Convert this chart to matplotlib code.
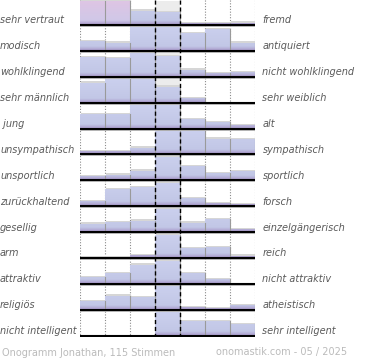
import numpy as np
import matplotlib
matplotlib.use("Agg")
import matplotlib.pyplot as plt
from matplotlib.patches import Rectangle
from matplotlib import transforms
from matplotlib.colors import to_rgb

# ---------------- data ----------------
left_labels = ["sehr vertraut", "modisch", "wohlklingend", "sehr männlich", " jung",
               "unsympathisch", "unsportlich", "zurückhaltend", "gesellig", "arm",
               "attraktiv", "religiös", "nicht intelligent"]
right_labels = ["fremd", "antiquiert", "nicht wohlklingend", "sehr weiblich", "alt",
                "sympathisch", "sportlich", "forsch", "einzelgängerisch", "reich",
                "nicht attraktiv", "atheistisch", "sehr intelligent"]
# relative bar heights per row (100 = full row height, larger values are clipped)
row_values = [
    [130, 115, 61, 55, 7, 7, 10],
    [40, 35, 120, 110, 75, 94, 35],
    [84, 80, 110, 89, 30, 16, 20],
    [85, 102, 130, 68, 19, 0, 0],
    [60, 60, 120, 120, 40, 27, 14],
    [14, 14, 29, 120, 110, 68, 64],
    [17, 24, 41, 130, 60, 31, 38],
    [23, 72, 80, 120, 35, 14, 9],
    [36, 44, 49, 150, 40, 57, 14],
    [4, 4, 13, 150, 41, 47, 11],
    [29, 46, 82, 120, 46, 21, 0],
    [36, 60, 55, 140, 13, 7, 20],
    [0, 0, 0, 150, 61, 61, 50],
]
footer_left = "Onogramm Jonathan, 115 Stimmen"
footer_right = "onomastik.com - 05 / 2025"

# ---------------- layout ----------------
W, H = 370, 360
fig = plt.figure(figsize=(W / 100, H / 100), dpi=100)
fig.patch.set_facecolor("white")
XPX = 25.0      # px per column
YPX = 25.9      # px per row
top_px, bot_px = 0, 337
ax = fig.add_axes([80 / W, (H - bot_px) / H, 175 / W, (bot_px - top_px) / H])
ytop = -25.0 / YPX
ybot = (bot_px - 25.0) / YPX
FULL = 23.5 / YPX
ncols = 7
nrows = len(row_values)
dx = 1.3 / XPX
dy = 1.3 / YPX


def grad_image(pink=False, n=60):
    d = np.linspace(23.5, 0, n)  # px above baseline, top row first
    purple = np.array(to_rgb("#a796c8"))
    lav = np.array(to_rgb("#c2c7e6"))
    lav_top = np.array(to_rgb("#cbd0ee"))
    if pink:
        lav = np.array(to_rgb("#d0c8e8"))
        lav_top = np.array(to_rgb("#dec5e4"))
    out = np.zeros((n, 1, 3))
    for k, dd in enumerate(d):
        if dd < 4.5:
            t = dd / 4.5
            c = purple * (1 - t) + lav * t
        else:
            t = (dd - 4.5) / 19
            c = lav * (1 - t) + lav_top * t
        out[k, 0] = c
    return out

img_normal = grad_image(False)
img_pink = grad_image(True)

# middle column background
for i in range(nrows):
    ax.add_patch(Rectangle((3, i - FULL), 1, FULL, facecolor="#ececec",
                           edgecolor="none", zorder=0.5))

# dotted grid
for x in [0, 1, 2, 5, 6, 7]:
    ax.plot([x, x], [ytop, ybot], color="#8a8a8a", lw=0.8,
            linestyle=(0, (1, 1.5)), zorder=1)

for i, vals in enumerate(row_values):
    for j, v in enumerate(vals):
        if v <= 0:
            continue
        h = min(v, 100) / 100 * FULL
        # shadow
        ax.add_patch(Rectangle((j + dx, i - h - dy), 1, h + dy, facecolor="#d6d6d6",
                               edgecolor="none", zorder=2))
        rect = Rectangle((j, i - h), 1, h, facecolor="none", edgecolor="none", zorder=3)
        ax.add_patch(rect)
        pink = (i == 0 and v > 100)
        im = ax.imshow(img_pink if pink else img_normal, extent=(j, j + 1, i, i - FULL),
                       origin="upper", aspect="auto", interpolation="bilinear", zorder=3)
        im.set_clip_path(rect)
        ax.plot([j + 1, j + 1], [i, i - h], color="#9a9a9a", lw=0.8, zorder=4)
    # baseline
    ax.plot([0.05, 7.08], [i + 1.0 / YPX, i + 1.0 / YPX], color="#b0b0b0", lw=1.2, zorder=5)
    ax.plot([0, 7], [i, i], color="black", lw=1.5, zorder=6, solid_capstyle="butt")

# dashed middle lines
for x in [3, 4]:
    ax.plot([x, x], [ytop, ybot], color="black", lw=1.0,
            linestyle=(0, (3, 2)), zorder=7)

ax.set_xlim(0, 7)
ax.set_ylim(ybot, ytop)
ax.axis("off")

tr_left = transforms.blended_transform_factory(fig.transFigure, ax.transData)
for i in range(nrows):
    y = i - 4.6 / YPX
    ax.text(0.0 / W, y, left_labels[i], transform=tr_left, ha="left", va="center",
            fontsize=7, style="italic", color="#5a5a5a", family="DejaVu Sans")
    ax.text(262.5 / W, y, right_labels[i], transform=tr_left, ha="left", va="center",
            fontsize=7, style="italic", color="#5a5a5a", family="DejaVu Sans")

fig.text(2 / W, 1 - 352.5 / H, footer_left, ha="left", va="center",
         fontsize=7, color="#bbbbbb", family="DejaVu Sans")
fig.text(347 / W, 1 - 352.5 / H, footer_right, ha="right", va="center",
         fontsize=7, color="#bbbbbb", family="DejaVu Sans")

fig.savefig("out.png", dpi=100, facecolor="white")
